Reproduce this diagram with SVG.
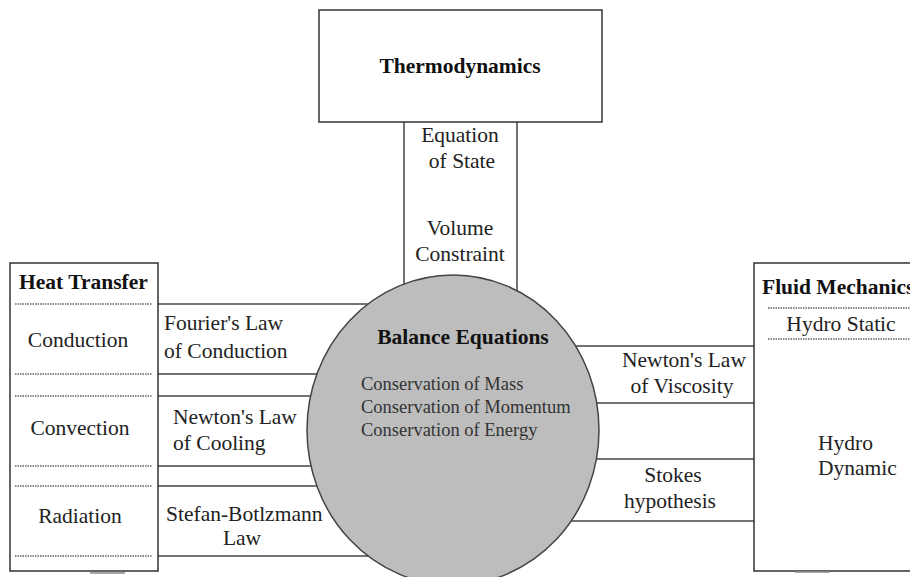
<svg xmlns="http://www.w3.org/2000/svg" width="910" height="577" viewBox="0 0 910 577">
<style>
  .box { fill: #fff; stroke: #333; stroke-width: 1.5; }
  .ln { stroke: #444; stroke-width: 1.5; fill: none; }
  .dot { stroke: #666; stroke-width: 1.5; stroke-dasharray: 1.5 1; fill: none; }
  text { font-family: "Liberation Serif", "Times New Roman", serif; font-size: 21.5px; fill: #222; }
  .b { font-weight: bold; fill: #111; }
  .m { text-anchor: middle; }
  .s { font-size: 18.5px; fill: #333; }
</style>
<rect width="910" height="577" fill="#fff"/>
<g id="connectors">
  <line class="ln" x1="404" y1="122" x2="404" y2="300"/>
  <line class="ln" x1="517" y1="122" x2="517" y2="300"/>
  <line class="ln" x1="158" y1="304" x2="453" y2="304"/>
  <line class="ln" x1="158" y1="374" x2="453" y2="374"/>
  <line class="ln" x1="158" y1="396" x2="453" y2="396"/>
  <line class="ln" x1="158" y1="466" x2="453" y2="466"/>
  <line class="ln" x1="158" y1="486" x2="453" y2="486"/>
  <line class="ln" x1="158" y1="556" x2="453" y2="556"/>
  <line class="ln" x1="453" y1="346" x2="754" y2="346"/>
  <line class="ln" x1="453" y1="403" x2="754" y2="403"/>
  <line class="ln" x1="453" y1="459" x2="754" y2="459"/>
  <line class="ln" x1="453" y1="521" x2="754" y2="521"/>
  <text class="m" x="460" y="142">Equation</text>
  <text class="m" x="462" y="168">of State</text>
  <text class="m" x="460" y="235">Volume</text>
  <text class="m" x="460" y="261">Constraint</text>
  <text x="164" y="330">Fourier's Law</text>
  <text x="164" y="358">of Conduction</text>
  <text x="173" y="424">Newton's Law</text>
  <text x="173" y="450">of Cooling</text>
  <text x="166" y="521">Stefan-Botlzmann</text>
  <text class="m" x="242" y="545">Law</text>
  <text class="m" x="684" y="367">Newton's Law</text>
  <text class="m" x="682" y="393">of Viscosity</text>
  <text class="m" x="673" y="482">Stokes</text>
  <text class="m" x="670" y="508">hypothesis</text>
</g>
<g id="thermodynamics">
  <rect class="box" x="319" y="10" width="283" height="112"/>
  <text class="b m" x="460" y="73">Thermodynamics</text>
</g>
<g id="heat-transfer">
  <rect class="box" x="10" y="263" width="148" height="308"/>
  <text class="b" x="19" y="289">Heat Transfer</text>
  <line class="dot" x1="15" y1="304" x2="152" y2="304"/>
  <line class="dot" x1="15" y1="374" x2="152" y2="374"/>
  <line class="dot" x1="15" y1="396" x2="152" y2="396"/>
  <line class="dot" x1="15" y1="466" x2="152" y2="466"/>
  <line class="dot" x1="15" y1="486" x2="152" y2="486"/>
  <line class="dot" x1="15" y1="556" x2="152" y2="556"/>
  <text class="m" x="78" y="347">Conduction</text>
  <text class="m" x="80" y="435">Convection</text>
  <text class="m" x="80" y="523">Radiation</text>
  <line x1="90" y1="573" x2="125" y2="573" stroke="#888" stroke-width="1.5"/>
</g>
<g id="fluid-mechanics">
  <rect class="box" x="754" y="263" width="170" height="308"/>
  <text class="b" x="762" y="294">Fluid Mechanics</text>
  <line class="dot" x1="768" y1="308" x2="910" y2="308"/>
  <text class="m" x="841" y="331">Hydro Static</text>
  <line class="dot" x1="768" y1="339" x2="910" y2="339"/>
  <text x="818" y="450">Hydro</text>
  <text x="818" y="475">Dynamic</text>
  <line x1="795" y1="572" x2="830" y2="572" stroke="#888" stroke-width="1.5"/>
</g>
<g id="balance-equations">
  <ellipse cx="453" cy="430" rx="146" ry="155" fill="#bdbdbd" stroke="#444" stroke-width="1.5"/>
  <text class="b m" x="463" y="344">Balance Equations</text>
  <text class="s" x="361" y="390">Conservation of Mass</text>
  <text class="s" x="361" y="413">Conservation of Momentum</text>
  <text class="s" x="361" y="436">Conservation of Energy</text>
</g>
</svg>
